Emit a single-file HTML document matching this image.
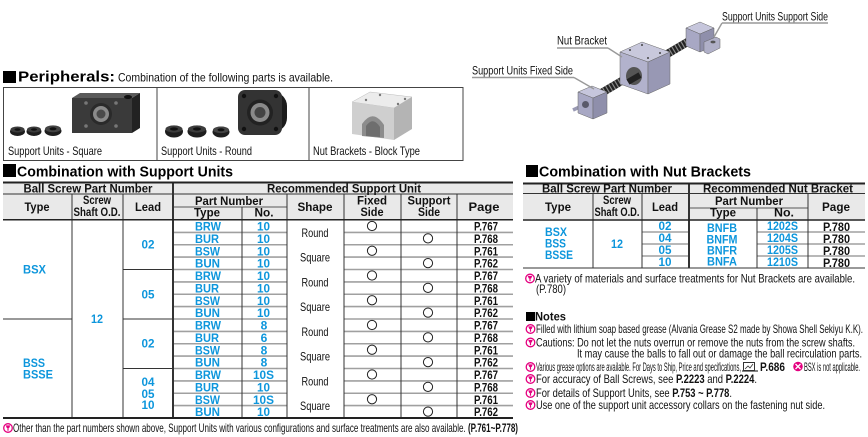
<!DOCTYPE html>
<html><head><meta charset="utf-8"><style>
html,body{margin:0;padding:0;background:#fff;}
svg{display:block;}
text{font-family:"Liberation Sans",Arial,sans-serif;}
.h{font-weight:bold;font-size:12px;fill:#111;}
.b{font-weight:bold;font-size:12px;fill:#0d96dc;}
.k{font-weight:bold;font-size:12px;fill:#111;}
.r{font-size:12px;fill:#111;}
.t{font-weight:bold;font-size:14.5px;fill:#000;}
</style></head><body>
<svg width="868" height="437" viewBox="0 0 868 437" xmlns="http://www.w3.org/2000/svg">
<defs>
<g id="tip"><circle r="4.3" fill="#fff" stroke="#e4007f" stroke-width="1.3"/><path d="M-2.3,-2.6 h4.6 l-1.1,2.6 h-2.4z" fill="#e4007f"/><rect x="-0.6" y="0" width="1.2" height="2.7" fill="#e4007f"/></g>
</defs>

<!-- ===== Peripherals ===== -->
<rect x="3" y="71" width="13" height="12" fill="#000"/>
<text x="18" y="81.5" class="t" font-size="14" textLength="97" lengthAdjust="spacingAndGlyphs">Peripherals:</text>
<text x="118" y="81.5" class="r" font-size="13" textLength="215" lengthAdjust="spacingAndGlyphs">Combination of the following parts is available.</text>
<rect x="3.5" y="87.5" width="459.5" height="73" fill="none" stroke="#444" stroke-width="1"/>
<line x1="157" y1="87.5" x2="157" y2="160.5" stroke="#444" stroke-width="1"/>
<line x1="309" y1="87.5" x2="309" y2="160.5" stroke="#444" stroke-width="1"/>
<text x="8" y="155" class="r" font-size="11.5" textLength="94" lengthAdjust="spacingAndGlyphs">Support Units - Square</text>
<text x="161" y="155" class="r" font-size="11.5" textLength="91" lengthAdjust="spacingAndGlyphs">Support Units - Round</text>
<text x="313" y="155" class="r" font-size="11.5" textLength="107" lengthAdjust="spacingAndGlyphs">Nut Brackets - Block Type</text>

<!-- image 1: square support unit -->
<g>
<ellipse cx="17.5" cy="131.5" rx="7.5" ry="4.5" fill="#1e1e1e"/><ellipse cx="17.5" cy="129.5" rx="7" ry="3" fill="#3c3c3c"/><ellipse cx="17.5" cy="129.5" rx="3" ry="1.3" fill="#111"/>
<ellipse cx="34" cy="131.5" rx="7.5" ry="4.5" fill="#1e1e1e"/><ellipse cx="34" cy="129.5" rx="7" ry="3" fill="#3c3c3c"/><ellipse cx="34" cy="129.5" rx="3" ry="1.3" fill="#111"/>
<ellipse cx="53" cy="131" rx="8.5" ry="5" fill="#1e1e1e"/><ellipse cx="53" cy="128.8" rx="8" ry="3.4" fill="#444"/><ellipse cx="53" cy="128.8" rx="3.5" ry="1.5" fill="#111"/>
<polygon points="72,98 80,93 140,93 132,98" fill="#5a5a5a"/>
<polygon points="132,98 140,93 140,128 132,133" fill="#222"/>
<rect x="72" y="98" width="60" height="35" fill="#3a3a3a"/>
<circle cx="101" cy="114" r="11" fill="#2a2a2a"/>
<circle cx="101" cy="114" r="8" fill="#8a8a8a"/>
<circle cx="101" cy="114" r="4.5" fill="#4a4a4a"/>
<circle cx="86" cy="103" r="1.8" fill="#777"/><circle cx="116" cy="103" r="1.8" fill="#777"/>
<circle cx="86" cy="126" r="1.8" fill="#777"/><circle cx="116" cy="126" r="1.8" fill="#777"/>
<ellipse cx="128" cy="97" rx="4" ry="2" fill="#111"/>
</g>
<!-- image 2: round support unit -->
<g>
<ellipse cx="174" cy="131.5" rx="9" ry="6" fill="#1e1e1e"/><ellipse cx="174" cy="129" rx="8.5" ry="3.6" fill="#3c3c3c"/><ellipse cx="174" cy="129" rx="4" ry="1.6" fill="#111"/>
<ellipse cx="197" cy="131.5" rx="9.5" ry="6" fill="#1e1e1e"/><ellipse cx="197" cy="129" rx="9" ry="3.6" fill="#3c3c3c"/><ellipse cx="197" cy="129" rx="4" ry="1.6" fill="#111"/>
<ellipse cx="221" cy="132" rx="8.5" ry="5.5" fill="#1e1e1e"/><ellipse cx="221" cy="129.8" rx="8" ry="3.3" fill="#444"/><ellipse cx="221" cy="129.8" rx="3.5" ry="1.5" fill="#111"/>
<rect x="252" y="92" width="35" height="40" rx="14" fill="#1c1c1c"/>
<rect x="238" y="90" width="44" height="45" rx="7" fill="#333"/>
<circle cx="260" cy="112.5" r="13" fill="#222"/>
<circle cx="260" cy="112.5" r="9.5" fill="#8a8a8a"/>
<circle cx="260" cy="112.5" r="5.5" fill="#444"/>
<circle cx="244" cy="96" r="2.2" fill="#111"/><circle cx="276" cy="96" r="2.2" fill="#111"/>
<circle cx="244" cy="129" r="2.2" fill="#111"/><circle cx="276" cy="129" r="2.2" fill="#111"/>
</g>
<!-- image 3: nut bracket block -->
<g>
<polygon points="352,102 370,92 412,97 394,108" fill="#ececec" stroke="#bbb" stroke-width="0.5"/>
<polygon points="352,102 394,108 394,140 352,134" fill="#cfcfcf"/>
<polygon points="394,108 412,97 412,129 394,140" fill="#b4b4b4"/>
<path d="M362,136 L362,124 Q373,108 384,125 L384,138 Z" fill="#8c8c8c"/>
<path d="M366,136 L366,126 Q373,116 380,127 L380,137 Z" fill="#6e6e6e"/>
<circle cx="366" cy="100" r="1.2" fill="#777"/><circle cx="398" cy="104" r="1.2" fill="#777"/>
<circle cx="380" cy="95" r="1.2" fill="#777"/><circle cx="405" cy="99" r="1.2" fill="#777"/>
</g>

<!-- ===== Top-right assembly diagram ===== -->
<line x1="598" y1="95" x2="706" y2="31" stroke="#222" stroke-width="8"/>
<line x1="598" y1="95" x2="706" y2="31" stroke="#8a8a8a" stroke-width="8" stroke-dasharray="1.2 2.3"/>
<!-- nut bracket -->
<polygon points="620,52 642,42 670,52 648,62" fill="#c8c8dc" stroke="#666" stroke-width="0.5"/>
<polygon points="620,52 648,62 648,94 620,84" fill="#b2b2cc" stroke="#666" stroke-width="0.5"/>
<polygon points="648,62 670,52 670,84 648,94" fill="#9898b4" stroke="#666" stroke-width="0.5"/>
<ellipse cx="634" cy="76" rx="8" ry="9" fill="#555"/>
<line x1="628" y1="82" x2="640" y2="75" stroke="#222" stroke-width="6"/>
<circle cx="630" cy="50" r="1" fill="#444"/><circle cx="642" cy="45" r="1" fill="#444"/><circle cx="660" cy="53" r="1" fill="#444"/><circle cx="648" cy="58" r="1" fill="#444"/>
<!-- fixed side unit -->
<line x1="586" y1="104" x2="573" y2="110" stroke="#9a9ab4" stroke-width="3.5"/>
<polygon points="578,92 592,86 607,92 593,98" fill="#c6c6dc" stroke="#666" stroke-width="0.5"/>
<polygon points="578,92 593,98 593,119 578,113" fill="#a8a8c4" stroke="#666" stroke-width="0.5"/>
<polygon points="593,98 607,92 607,113 593,119" fill="#8f8fab" stroke="#666" stroke-width="0.5"/>
<circle cx="585.5" cy="104.5" r="3.5" fill="#5a5a6a"/>
<!-- support side unit -->
<polygon points="686,28 700,22 714,28 700,34" fill="#c6c6dc" stroke="#666" stroke-width="0.5"/>
<polygon points="686,28 700,34 700,52 686,46" fill="#a8a8c4" stroke="#666" stroke-width="0.5"/>
<polygon points="700,34 714,28 714,46 700,52" fill="#8f8fab" stroke="#666" stroke-width="0.5"/>
<polygon points="704,42 716,37 720,39 720,48 708,54 704,52" fill="#b0b0c8" stroke="#666" stroke-width="0.5"/>
<ellipse cx="713" cy="42" rx="2.5" ry="1.4" fill="#555"/>
<!-- labels -->
<text x="722" y="20.5" class="r" textLength="106" lengthAdjust="spacingAndGlyphs">Support Units Support Side</text>
<text x="557" y="44.5" class="r" textLength="50" lengthAdjust="spacingAndGlyphs">Nut Bracket</text>
<text x="472" y="74.5" class="r" textLength="101" lengthAdjust="spacingAndGlyphs">Support Units Fixed Side</text>
<g stroke="#999" stroke-width="1.4" fill="none">
<line x1="722" y1="23" x2="828" y2="23"/><line x1="722" y1="23" x2="714" y2="37"/>
<line x1="557" y1="48" x2="608" y2="48"/><line x1="608" y1="48" x2="622" y2="57"/>
<line x1="472" y1="77.5" x2="574" y2="77.5"/><line x1="574" y1="77.5" x2="594" y2="89"/>
</g>

<!-- ===== Combination with Support Units ===== -->
<rect x="3" y="164" width="13" height="13" fill="#000"/>
<text x="17" y="176.5" class="t" textLength="216" lengthAdjust="spacingAndGlyphs">Combination with Support Units</text>
<rect x="3" y="182" width="510" height="38" fill="#e9e9e9"/>
<!-- grey row lines -->
<g stroke="#a0a0a0" stroke-width="1.6">
<line x1="173" y1="207" x2="287" y2="207" stroke-width="2"/>
<line x1="173" y1="232.4" x2="287" y2="232.4"/><line x1="344" y1="232.4" x2="513" y2="232.4"/>
<line x1="173" y1="244.75" x2="287" y2="244.75"/><line x1="344" y1="244.75" x2="513" y2="244.75"/>
<line x1="173" y1="257.1" x2="287" y2="257.1"/><line x1="344" y1="257.1" x2="513" y2="257.1"/>
<line x1="173" y1="269.5" x2="287" y2="269.5"/><line x1="344" y1="269.5" x2="513" y2="269.5"/>
<line x1="173" y1="281.9" x2="287" y2="281.9"/><line x1="344" y1="281.9" x2="513" y2="281.9"/>
<line x1="173" y1="294.25" x2="287" y2="294.25"/><line x1="344" y1="294.25" x2="513" y2="294.25"/>
<line x1="173" y1="306.6" x2="287" y2="306.6"/><line x1="344" y1="306.6" x2="513" y2="306.6"/>
<line x1="173" y1="319" x2="287" y2="319"/><line x1="344" y1="319" x2="513" y2="319"/>
<line x1="173" y1="331.4" x2="287" y2="331.4"/><line x1="344" y1="331.4" x2="513" y2="331.4"/>
<line x1="173" y1="343.75" x2="287" y2="343.75"/><line x1="344" y1="343.75" x2="513" y2="343.75"/>
<line x1="173" y1="356.1" x2="287" y2="356.1"/><line x1="344" y1="356.1" x2="513" y2="356.1"/>
<line x1="173" y1="368.5" x2="287" y2="368.5"/><line x1="344" y1="368.5" x2="513" y2="368.5"/>
<line x1="173" y1="380.9" x2="287" y2="380.9"/><line x1="344" y1="380.9" x2="513" y2="380.9"/>
<line x1="173" y1="393.25" x2="287" y2="393.25"/><line x1="344" y1="393.25" x2="513" y2="393.25"/>
<line x1="173" y1="405.6" x2="287" y2="405.6"/><line x1="344" y1="405.6" x2="513" y2="405.6"/>
</g>
<!-- dark lines -->
<g stroke="#333" stroke-width="1">
<line x1="3" y1="194" x2="513" y2="194"/>
<line x1="3" y1="319" x2="72" y2="319"/>
<line x1="123" y1="269.5" x2="173" y2="269.5"/>
<line x1="123" y1="319" x2="173" y2="319"/>
<line x1="123" y1="368.5" x2="173" y2="368.5"/>
<line x1="72" y1="194" x2="72" y2="418"/>
<line x1="123" y1="194" x2="123" y2="418"/>
<line x1="242" y1="207" x2="242" y2="418"/>
<line x1="287" y1="194" x2="287" y2="418"/>
<line x1="344" y1="194" x2="344" y2="418"/>
<line x1="401" y1="194" x2="401" y2="418"/>
<line x1="457" y1="194" x2="457" y2="418"/>
</g>
<line x1="173" y1="182" x2="173" y2="418" stroke="#333" stroke-width="2"/>
<line x1="3" y1="182.5" x2="513" y2="182.5" stroke="#222" stroke-width="2"/>
<line x1="3" y1="219.8" x2="513" y2="219.8" stroke="#222" stroke-width="1.5"/>
<line x1="3" y1="418" x2="513" y2="418" stroke="#222" stroke-width="2"/>
<!-- header text -->
<g text-anchor="middle">
<text x="88" y="192.5" class="h" textLength="129" lengthAdjust="spacingAndGlyphs">Ball Screw Part Number</text>
<text x="344" y="192.5" class="h" textLength="154" lengthAdjust="spacingAndGlyphs">Recommended Support Unit</text>
<text x="37" y="211" class="h" textLength="25" lengthAdjust="spacingAndGlyphs">Type</text>
<text x="97" y="204" class="h" textLength="28" lengthAdjust="spacingAndGlyphs">Screw</text>
<text x="97" y="216" class="h" textLength="47" lengthAdjust="spacingAndGlyphs">Shaft O.D.</text>
<text x="148" y="211" class="h" textLength="26" lengthAdjust="spacingAndGlyphs">Lead</text>
<text x="229" y="205" class="h" textLength="68" lengthAdjust="spacingAndGlyphs">Part Number</text>
<text x="207" y="216.5" class="h" textLength="26" lengthAdjust="spacingAndGlyphs">Type</text>
<text x="264" y="216.5" class="h" textLength="19" lengthAdjust="spacingAndGlyphs">No.</text>
<text x="315" y="211" class="h" textLength="35" lengthAdjust="spacingAndGlyphs">Shape</text>
<text x="372" y="204.5" class="h" textLength="30" lengthAdjust="spacingAndGlyphs">Fixed</text>
<text x="372" y="216" class="h" textLength="23" lengthAdjust="spacingAndGlyphs">Side</text>
<text x="429" y="204.5" class="h" textLength="43" lengthAdjust="spacingAndGlyphs">Support</text>
<text x="429" y="216" class="h" textLength="22" lengthAdjust="spacingAndGlyphs">Side</text>
<text x="484" y="211" class="h" textLength="31" lengthAdjust="spacingAndGlyphs">Page</text>
</g>
<!-- left body text -->
<text x="23" y="273.5" class="b" textLength="23" lengthAdjust="spacingAndGlyphs">BSX</text>
<text x="23" y="367" class="b" textLength="22" lengthAdjust="spacingAndGlyphs">BSS</text>
<text x="23" y="378.5" class="b" textLength="30" lengthAdjust="spacingAndGlyphs">BSSE</text>
<g text-anchor="middle">
<text x="97" y="323" class="b" textLength="12" lengthAdjust="spacingAndGlyphs">12</text>
<text x="148" y="248.5" class="b" textLength="13" lengthAdjust="spacingAndGlyphs">02</text>
<text x="148" y="298.5" class="b" textLength="13" lengthAdjust="spacingAndGlyphs">05</text>
<text x="148" y="347.5" class="b" textLength="13" lengthAdjust="spacingAndGlyphs">02</text>
<text x="148" y="386" class="b" textLength="13" lengthAdjust="spacingAndGlyphs">04</text>
<text x="148" y="398" class="b" textLength="13" lengthAdjust="spacingAndGlyphs">05</text>
<text x="148" y="409" class="b" textLength="13" lengthAdjust="spacingAndGlyphs">10</text>
</g>
<!-- part type column -->
<g class="b">
<text x="195" y="230.5" class="b" textLength="26" lengthAdjust="spacingAndGlyphs">BRW</text>
<text x="195" y="242.9" class="b" textLength="24" lengthAdjust="spacingAndGlyphs">BUR</text>
<text x="195" y="255.25" class="b" textLength="25" lengthAdjust="spacingAndGlyphs">BSW</text>
<text x="195" y="267.6" class="b" textLength="25" lengthAdjust="spacingAndGlyphs">BUN</text>
<text x="195" y="280" class="b" textLength="26" lengthAdjust="spacingAndGlyphs">BRW</text>
<text x="195" y="292.4" class="b" textLength="24" lengthAdjust="spacingAndGlyphs">BUR</text>
<text x="195" y="304.75" class="b" textLength="25" lengthAdjust="spacingAndGlyphs">BSW</text>
<text x="195" y="317.1" class="b" textLength="25" lengthAdjust="spacingAndGlyphs">BUN</text>
<text x="195" y="329.5" class="b" textLength="26" lengthAdjust="spacingAndGlyphs">BRW</text>
<text x="195" y="341.9" class="b" textLength="24" lengthAdjust="spacingAndGlyphs">BUR</text>
<text x="195" y="354.25" class="b" textLength="25" lengthAdjust="spacingAndGlyphs">BSW</text>
<text x="195" y="366.6" class="b" textLength="25" lengthAdjust="spacingAndGlyphs">BUN</text>
<text x="195" y="379" class="b" textLength="26" lengthAdjust="spacingAndGlyphs">BRW</text>
<text x="195" y="391.4" class="b" textLength="24" lengthAdjust="spacingAndGlyphs">BUR</text>
<text x="195" y="403.75" class="b" textLength="25" lengthAdjust="spacingAndGlyphs">BSW</text>
<text x="195" y="416.1" class="b" textLength="25" lengthAdjust="spacingAndGlyphs">BUN</text>
</g>
<g text-anchor="middle">
<text x="263.5" y="230.5" class="b" textLength="13" lengthAdjust="spacingAndGlyphs">10</text>
<text x="263.5" y="242.9" class="b" textLength="13" lengthAdjust="spacingAndGlyphs">10</text>
<text x="263.5" y="255.25" class="b" textLength="13" lengthAdjust="spacingAndGlyphs">10</text>
<text x="263.5" y="267.6" class="b" textLength="13" lengthAdjust="spacingAndGlyphs">10</text>
<text x="263.5" y="280" class="b" textLength="13" lengthAdjust="spacingAndGlyphs">10</text>
<text x="263.5" y="292.4" class="b" textLength="13" lengthAdjust="spacingAndGlyphs">10</text>
<text x="263.5" y="304.75" class="b" textLength="13" lengthAdjust="spacingAndGlyphs">10</text>
<text x="263.5" y="317.1" class="b" textLength="13" lengthAdjust="spacingAndGlyphs">10</text>
<text x="264" y="329.5" class="b">8</text>
<text x="264" y="341.9" class="b">6</text>
<text x="264" y="354.25" class="b">8</text>
<text x="264" y="366.6" class="b">8</text>
<text x="263.5" y="379" class="b" textLength="21" lengthAdjust="spacingAndGlyphs">10S</text>
<text x="263.5" y="391.4" class="b" textLength="13" lengthAdjust="spacingAndGlyphs">10</text>
<text x="263.5" y="403.75" class="b" textLength="21" lengthAdjust="spacingAndGlyphs">10S</text>
<text x="263.5" y="416.1" class="b" textLength="13" lengthAdjust="spacingAndGlyphs">10</text>
<!-- shape -->
<text x="315" y="236.9" class="r" textLength="27" lengthAdjust="spacingAndGlyphs">Round</text>
<text x="315" y="261.6" class="r" textLength="30" lengthAdjust="spacingAndGlyphs">Square</text>
<text x="315" y="286.4" class="r" textLength="27" lengthAdjust="spacingAndGlyphs">Round</text>
<text x="315" y="311.1" class="r" textLength="30" lengthAdjust="spacingAndGlyphs">Square</text>
<text x="315" y="335.9" class="r" textLength="27" lengthAdjust="spacingAndGlyphs">Round</text>
<text x="315" y="360.6" class="r" textLength="30" lengthAdjust="spacingAndGlyphs">Square</text>
<text x="315" y="385.4" class="r" textLength="27" lengthAdjust="spacingAndGlyphs">Round</text>
<text x="315" y="410.1" class="r" textLength="30" lengthAdjust="spacingAndGlyphs">Square</text>
<!-- page -->
<text x="486" y="230.5" class="k" textLength="24" lengthAdjust="spacingAndGlyphs">P.767</text>
<text x="486" y="242.9" class="k" textLength="24" lengthAdjust="spacingAndGlyphs">P.768</text>
<text x="486" y="255.25" class="k" textLength="24" lengthAdjust="spacingAndGlyphs">P.761</text>
<text x="486" y="267.6" class="k" textLength="24" lengthAdjust="spacingAndGlyphs">P.762</text>
<text x="486" y="280" class="k" textLength="24" lengthAdjust="spacingAndGlyphs">P.767</text>
<text x="486" y="292.4" class="k" textLength="24" lengthAdjust="spacingAndGlyphs">P.768</text>
<text x="486" y="304.75" class="k" textLength="24" lengthAdjust="spacingAndGlyphs">P.761</text>
<text x="486" y="317.1" class="k" textLength="24" lengthAdjust="spacingAndGlyphs">P.762</text>
<text x="486" y="329.5" class="k" textLength="24" lengthAdjust="spacingAndGlyphs">P.767</text>
<text x="486" y="341.9" class="k" textLength="24" lengthAdjust="spacingAndGlyphs">P.768</text>
<text x="486" y="354.25" class="k" textLength="24" lengthAdjust="spacingAndGlyphs">P.761</text>
<text x="486" y="366.6" class="k" textLength="24" lengthAdjust="spacingAndGlyphs">P.762</text>
<text x="486" y="379" class="k" textLength="24" lengthAdjust="spacingAndGlyphs">P.767</text>
<text x="486" y="391.4" class="k" textLength="24" lengthAdjust="spacingAndGlyphs">P.768</text>
<text x="486" y="403.75" class="k" textLength="24" lengthAdjust="spacingAndGlyphs">P.761</text>
<text x="486" y="416.1" class="k" textLength="24" lengthAdjust="spacingAndGlyphs">P.762</text>
</g>
<!-- circles -->
<g fill="none" stroke="#222" stroke-width="1">
<circle cx="372" cy="226" r="4.6"/><circle cx="428" cy="238.4" r="4.6"/>
<circle cx="372" cy="250.75" r="4.6"/><circle cx="428" cy="263.1" r="4.6"/>
<circle cx="372" cy="275.5" r="4.6"/><circle cx="428" cy="287.9" r="4.6"/>
<circle cx="372" cy="300.25" r="4.6"/><circle cx="428" cy="312.6" r="4.6"/>
<circle cx="372" cy="325" r="4.6"/><circle cx="428" cy="337.4" r="4.6"/>
<circle cx="372" cy="349.75" r="4.6"/><circle cx="428" cy="362.1" r="4.6"/>
<circle cx="372" cy="374.5" r="4.6"/><circle cx="428" cy="386.9" r="4.6"/>
<circle cx="372" cy="399.25" r="4.6"/><circle cx="428" cy="411.6" r="4.6"/>
</g>
<!-- footnote -->
<use href="#tip" x="8" y="428"/>
<text x="13" y="432" class="r" font-size="11" textLength="505" lengthAdjust="spacingAndGlyphs">Other than the part numbers shown above, Support Units with various configurations and surface treatments are also available. <tspan font-weight="bold">(P.761~P.778)</tspan></text>

<!-- ===== Combination with Nut Brackets ===== -->
<rect x="526" y="165" width="12" height="12" fill="#000"/>
<text x="539" y="176.5" class="t" textLength="212" lengthAdjust="spacingAndGlyphs">Combination with Nut Brackets</text>
<rect x="523" y="183" width="342" height="37" fill="#e9e9e9"/>
<g stroke="#a0a0a0" stroke-width="1.6">
<line x1="689" y1="208" x2="808" y2="208" stroke-width="2"/>
<line x1="642" y1="232" x2="689" y2="232"/><line x1="757" y1="232" x2="865" y2="232"/>
<line x1="642" y1="244" x2="689" y2="244"/><line x1="757" y1="244" x2="865" y2="244"/>
<line x1="642" y1="256" x2="689" y2="256"/><line x1="757" y1="256" x2="865" y2="256"/>
</g>
<g stroke="#333" stroke-width="1">
<line x1="523" y1="193.5" x2="865" y2="193.5"/>
<line x1="593" y1="193.5" x2="593" y2="268"/>
<line x1="642" y1="193.5" x2="642" y2="268"/>
<line x1="757" y1="208" x2="757" y2="268"/>
<line x1="808" y1="193.5" x2="808" y2="268"/>
<line x1="523" y1="268" x2="865" y2="268"/>
</g>
<line x1="689" y1="183" x2="689" y2="268" stroke="#333" stroke-width="2"/>
<line x1="523" y1="183.5" x2="865" y2="183.5" stroke="#222" stroke-width="2"/>
<line x1="523" y1="220" x2="865" y2="220" stroke="#222" stroke-width="1.5"/>
<g text-anchor="middle">
<text x="607" y="192.3" class="h" textLength="130" lengthAdjust="spacingAndGlyphs">Ball Screw Part Number</text>
<text x="778" y="192.3" class="h" textLength="150" lengthAdjust="spacingAndGlyphs">Recommended Nut Bracket</text>
<text x="558" y="211" class="h" textLength="26" lengthAdjust="spacingAndGlyphs">Type</text>
<text x="617" y="204" class="h" textLength="28" lengthAdjust="spacingAndGlyphs">Screw</text>
<text x="617" y="215.8" class="h" textLength="45" lengthAdjust="spacingAndGlyphs">Shaft O.D.</text>
<text x="665" y="211" class="h" textLength="26" lengthAdjust="spacingAndGlyphs">Lead</text>
<text x="749" y="205" class="h" textLength="68" lengthAdjust="spacingAndGlyphs">Part Number</text>
<text x="723" y="216.5" class="h" textLength="26" lengthAdjust="spacingAndGlyphs">Type</text>
<text x="784" y="216.5" class="h" textLength="20" lengthAdjust="spacingAndGlyphs">No.</text>
<text x="836" y="211" class="h" textLength="28" lengthAdjust="spacingAndGlyphs">Page</text>
<text x="617" y="248" class="b" textLength="12" lengthAdjust="spacingAndGlyphs">12</text>
<text x="665" y="230" class="b" textLength="13" lengthAdjust="spacingAndGlyphs">02</text>
<text x="665" y="242" class="b" textLength="13" lengthAdjust="spacingAndGlyphs">04</text>
<text x="665" y="254" class="b" textLength="13" lengthAdjust="spacingAndGlyphs">05</text>
<text x="665" y="266" class="b" textLength="13" lengthAdjust="spacingAndGlyphs">10</text>
<text x="722" y="232" class="b" textLength="30" lengthAdjust="spacingAndGlyphs">BNFB</text>
<text x="722" y="243.5" class="b" textLength="31" lengthAdjust="spacingAndGlyphs">BNFM</text>
<text x="722" y="254.5" class="b" textLength="30" lengthAdjust="spacingAndGlyphs">BNFR</text>
<text x="722" y="265.5" class="b" textLength="30" lengthAdjust="spacingAndGlyphs">BNFA</text>
<text x="782.5" y="230" class="b" textLength="31" lengthAdjust="spacingAndGlyphs">1202S</text>
<text x="782.5" y="242" class="b" textLength="31" lengthAdjust="spacingAndGlyphs">1204S</text>
<text x="782.5" y="254" class="b" textLength="31" lengthAdjust="spacingAndGlyphs">1205S</text>
<text x="782.5" y="266" class="b" textLength="31" lengthAdjust="spacingAndGlyphs">1210S</text>
<text x="836.5" y="231" class="k" textLength="27" lengthAdjust="spacingAndGlyphs">P.780</text>
<text x="836.5" y="243" class="k" textLength="27" lengthAdjust="spacingAndGlyphs">P.780</text>
<text x="836.5" y="255" class="k" textLength="27" lengthAdjust="spacingAndGlyphs">P.780</text>
<text x="836.5" y="267" class="k" textLength="27" lengthAdjust="spacingAndGlyphs">P.780</text>
</g>
<text x="545" y="236" class="b" textLength="22" lengthAdjust="spacingAndGlyphs">BSX</text>
<text x="545" y="247.5" class="b" textLength="21" lengthAdjust="spacingAndGlyphs">BSS</text>
<text x="545" y="259" class="b" textLength="28" lengthAdjust="spacingAndGlyphs">BSSE</text>
<use href="#tip" x="530" y="278.5"/>
<text x="535" y="282.5" class="r" textLength="320" lengthAdjust="spacingAndGlyphs">A variety of materials and surface treatments for Nut Brackets are available.</text>
<text x="536" y="293" class="r" textLength="30" lengthAdjust="spacingAndGlyphs">(P.780)</text>

<!-- ===== Notes ===== -->
<rect x="526" y="312" width="9" height="9" fill="#000"/>
<text x="535" y="320.5" class="h" textLength="31" lengthAdjust="spacingAndGlyphs">Notes</text>
<use href="#tip" x="530.5" y="329"/>
<text x="536" y="333" class="r" font-size="11.5" textLength="327" lengthAdjust="spacingAndGlyphs">Filled with lithium soap based grease (Alvania Grease S2 made by Showa Shell Sekiyu K.K).</text>
<use href="#tip" x="530.5" y="342.5"/>
<text x="536" y="346.5" class="r" textLength="319" lengthAdjust="spacingAndGlyphs">Cautions: Do not let the nuts overrun or remove the nuts from the screw shafts.</text>
<text x="577" y="357.5" class="r" textLength="285" lengthAdjust="spacingAndGlyphs">It may cause the balls to fall out or damage the ball recirculation parts.</text>
<use href="#tip" x="530.5" y="367"/>
<text x="536" y="371" class="r" font-size="10" textLength="205" lengthAdjust="spacingAndGlyphs">Various grease options are available. For Days to Ship, Price and specifications,</text>
<g>
<rect x="743.5" y="362.5" width="11" height="8" fill="#fff" stroke="#333" stroke-width="1"/>
<line x1="742" y1="371" x2="758" y2="371" stroke="#333" stroke-width="1.2"/>
<polyline points="745,369 748,366 750,368 753,364" fill="none" stroke="#333" stroke-width="0.8"/>
</g>
<text x="760" y="371" class="k" textLength="25" lengthAdjust="spacingAndGlyphs">P.686</text>
<circle cx="798" cy="366.5" r="4.8" fill="#e4007f"/>
<path d="M795.5,364 L800.5,369 M800.5,364 L795.5,369" stroke="#fff" stroke-width="1.3"/>
<text x="804" y="371" class="r" font-size="10" textLength="56" lengthAdjust="spacingAndGlyphs">BSX is not applicable.</text>
<use href="#tip" x="530.5" y="379"/>
<text x="536" y="383" class="r" textLength="221" lengthAdjust="spacingAndGlyphs">For accuracy of Ball Screws, see <tspan font-weight="bold">P.2223</tspan> and <tspan font-weight="bold">P.2224</tspan>.</text>
<use href="#tip" x="530.5" y="393"/>
<text x="536" y="397" class="r" textLength="196" lengthAdjust="spacingAndGlyphs">For details of Support Units, see <tspan font-weight="bold">P.753 ~ P.778</tspan>.</text>
<use href="#tip" x="530.5" y="405"/>
<text x="536" y="409" class="r" textLength="289" lengthAdjust="spacingAndGlyphs">Use one of the support unit accessory collars on the fastening nut side.</text>
</svg>
</body></html>
